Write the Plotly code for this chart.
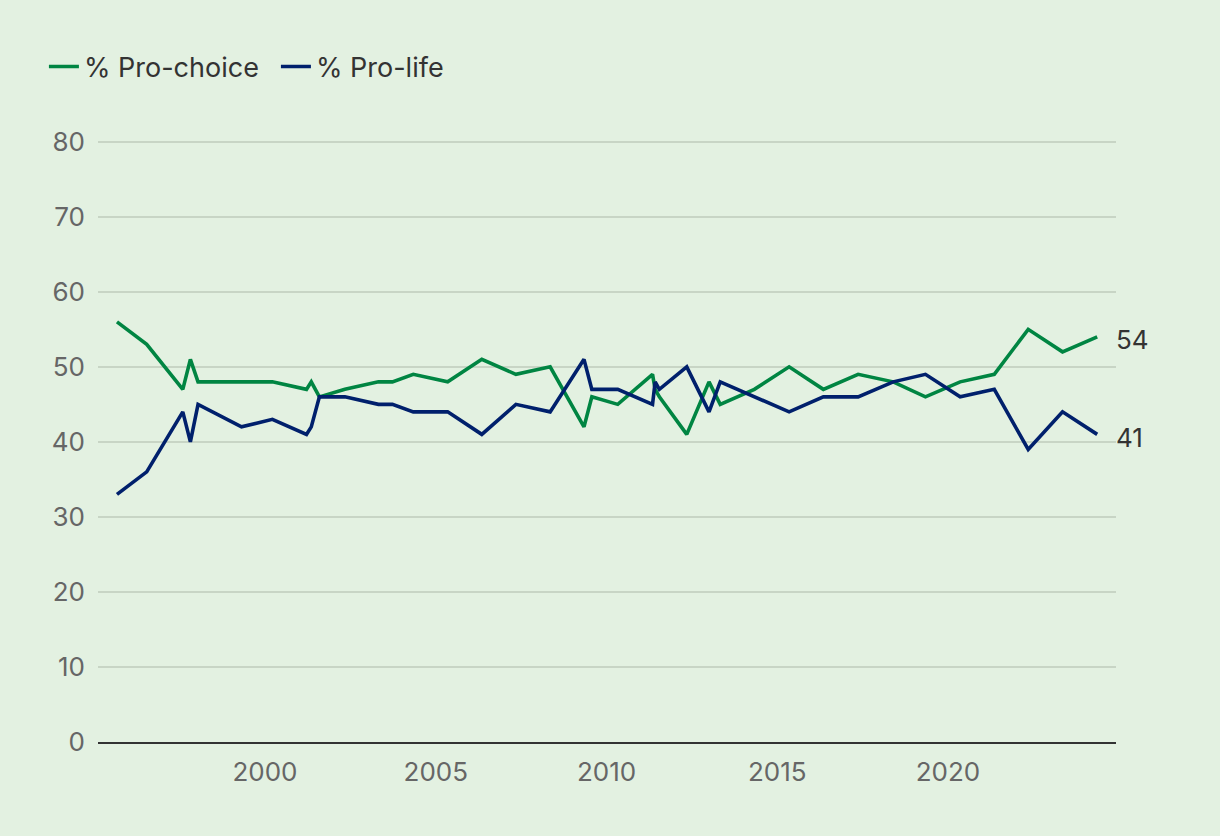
import plotly.graph_objects as go

dates = [
    "1995-09-01", "1996-07-15", "1997-08-05", "1997-10-25", "1998-01-15",
    "1999-04-25", "2000-03-20", "2001-03-20", "2001-05-10", "2001-08-05",
    "2002-05-05", "2003-04-28", "2003-09-25", "2004-05-05", "2005-05-08",
    "2006-05-08", "2007-05-08", "2008-05-08", "2009-05-05", "2009-07-28",
    "2010-05-01", "2011-05-08", "2011-06-05", "2011-07-20", "2012-05-08",
    "2013-01-01", "2013-05-01", "2014-05-01", "2015-05-08", "2016-05-08",
    "2017-05-15", "2018-05-25", "2019-05-05", "2020-05-10", "2021-05-10",
    "2022-05-08", "2023-05-10", "2024-05-15",
]
pro_choice = [
    56, 53, 47, 51, 48,
    48, 48, 47, 48, 46,
    47, 48, 48, 49, 48,
    51, 49, 50, 42, 46,
    45, 49, 47, 46, 41,
    48, 45, 47, 50, 47,
    49, 48, 46, 48, 49,
    55, 52, 54,
]
pro_life = [
    33, 36, 44, 40, 45,
    42, 43, 41, 42, 46,
    46, 45, 45, 44, 44,
    41, 45, 44, 51, 47,
    47, 45, 48, 47, 50,
    44, 48, 46, 44, 46,
    46, 48, 49, 46, 47,
    39, 44, 41,
]
series_names = ["% Pro-choice", "% Pro-life"]
y_ticks = [0, 10, 20, 30, 40, 50, 60, 70, 80]

GREEN = "#008542"
NAVY = "#00206C"
BG = "#E3F1E1"
FONT = "Inter, Roboto, sans-serif"

fig = go.Figure()
fig.add_trace(go.Scatter(x=dates, y=pro_choice, mode="lines", name=series_names[0],
                         line=dict(color=GREEN, width=3.6)))
fig.add_trace(go.Scatter(x=dates, y=pro_life, mode="lines", name=series_names[1],
                         line=dict(color=NAVY, width=3.6)))

for vals in (pro_choice, pro_life):
    fig.add_annotation(x=dates[-1], y=vals[-1], text=str(vals[-1]), showarrow=False,
                       xanchor="left", yanchor="middle", xshift=17, yshift=-3,
                       font=dict(family=FONT, size=26, color="#333333"))

fig.update_layout(
    width=1220, height=836,
    paper_bgcolor=BG, plot_bgcolor=BG,
    margin=dict(l=98, r=104, t=138, b=94, autoexpand=False),
    font=dict(family=FONT, size=26, color="#666666"),
    showlegend=True,
    legend=dict(orientation="h", xref="container", yref="container",
                x=0.036, y=1 - 67 / 836, xanchor="left", yanchor="middle",
                bgcolor="rgba(0,0,0,0)", borderwidth=0,
                font=dict(family=FONT, size=27, color="#333333"),
                itemwidth=30, entrywidth=187, tracegroupgap=0),
    xaxis=dict(type="date", range=["1995-02-10", "2024-12-02"],
               tick0="2000-01-01", dtick="M60", tickformat="%Y",
               showgrid=False, zeroline=False, showline=True,
               linecolor="#333333", linewidth=2, ticks="",
               ticklabelstandoff=6,
               tickfont=dict(family=FONT, size=26, color="#666666")),
    yaxis=dict(range=[0, 80.5], tickvals=y_ticks, showgrid=True,
               gridcolor="#C8D5C5", gridwidth=1.5, zeroline=False,
               showline=False, ticks="", ticklabelstandoff=12,
               tickfont=dict(family=FONT, size=26, color="#666666")),
)

fig.write_html("out.html", config={"displayModeBar": False},
               post_script="document.body.style.margin='0';")
